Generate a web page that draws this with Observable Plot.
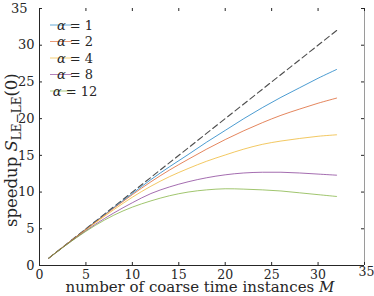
<!DOCTYPE html>
<html>
<head>
<meta charset="utf-8">
<script src="https://cdn.jsdelivr.net/npm/d3@7"></script>
<script src="https://cdn.jsdelivr.net/npm/@observablehq/plot@0.6"></script>
<style>
  html, body { margin: 0; padding: 0; background: #fff; }
  svg { display: block; }
  svg text, svg tspan { font-family: "DejaVu Serif", serif !important; }
</style>
</head>
<body>
<div id="chart"></div>
<script>
const M   = [1, 2, 4, 6, 8, 10, 12, 14, 16, 18, 20, 22, 24, 26, 28, 30, 32];
const s1  = [1, 2, 3.98, 5.95, 7.9, 9.8, 11.7, 13.45, 15.1, 16.8, 18.4, 20.0, 21.5, 22.9, 24.2, 25.5, 26.7];
const s2  = [1, 2, 3.97, 5.9, 7.8, 9.65, 11.4, 13.0, 14.45, 15.85, 17.15, 18.35, 19.45, 20.45, 21.3, 22.1, 22.8];
const s4  = [1, 1.99, 3.93, 5.8, 7.6, 9.3, 10.8, 12.1, 13.2, 14.2, 15.05, 15.85, 16.5, 16.95, 17.3, 17.6, 17.8];
const s8  = [1, 1.98, 3.85, 5.6, 7.15, 8.55, 9.8, 10.7, 11.4, 11.95, 12.35, 12.6, 12.7, 12.7, 12.6, 12.45, 12.3];
const s12 = [1, 1.97, 3.8, 5.45, 6.85, 7.95, 8.8, 9.5, 10.0, 10.3, 10.45, 10.4, 10.3, 10.15, 9.9, 9.65, 9.4];
const ideal = [1, 32];
const alphas = ["1", "2", "4", "8", "12"];
const colors = ["#0072BD", "#D95319", "#EDB120", "#7E2F8E", "#77AC30"];
const series = [s1, s2, s4, s8, s12];
const xTicks = [0, 5, 10, 15, 20, 25, 30, 35];
const yTicks = [0, 5, 10, 15, 20, 25, 30, 35];

const rows = [];
series.forEach((s, k) => M.forEach((m, i) => rows.push({M: m, S: s[i], a: alphas[k]})));
const idealRows = ideal.map(v => ({M: v, S: v}));

const font = "DejaVu Serif";
const tickX = 3 / 9.286, tickY = 3 / 7.34;

const svg = Plot.plot({
  width: 374, height: 296,
  marginLeft: 39, marginRight: 10, marginTop: 8, marginBottom: 31,
  style: {fontFamily: font, fontSize: "13px", color: "#262626", background: "#fff"},
  x: {domain: [0, 35]},
  y: {domain: [0, 35]},
  color: {domain: alphas, range: colors},
  marks: [
    Plot.line(idealRows, {x: "M", y: "S", stroke: "#4d4d4d", strokeWidth: 1.1, strokeDasharray: "6,3.5"}),
    Plot.line(rows, {x: "M", y: "S", z: "a", stroke: "a", strokeWidth: 1, strokeOpacity: 0.7, curve: "catmull-rom"}),
    // frame lines
    Plot.ruleX([0], {stroke: "#262626"}),
    Plot.ruleY([0], {stroke: "#262626"}),
    Plot.ruleX([35], {stroke: "#9a9a9a"}),
    // inward ticks
    Plot.ruleX(xTicks, {x: d => d, y1: 0, y2: tickY, stroke: "#262626"}),
    Plot.ruleX(xTicks, {x: d => d, y1: 35, y2: 35 - tickY, stroke: "#262626"}),
    Plot.ruleY(yTicks, {y: d => d, x1: 0, x2: tickX, stroke: "#262626"}),
    Plot.ruleY(yTicks, {y: d => d, x1: 35, x2: 35 - tickX, stroke: "#262626"}),
    Plot.axisX(xTicks.slice(0, -1), {tickSize: 0, tickPadding: 5, label: null, fontSize: 12.5}),
    Plot.axisX(xTicks.slice(-1), {tickSize: 0, tickPadding: 5, label: null, fontSize: 12.5, dy: -3, dx: 2}),
    Plot.axisY(yTicks.slice(0, -1), {tickSize: 0, tickPadding: 5, label: null, fontSize: 13}),
    Plot.axisY(yTicks.slice(-1), {tickSize: 0, tickPadding: 5, label: null, fontSize: 13, dx: -7})
  ]
});

const g = d3.select(svg);
// x label
const xl = g.append("text")
  .attr("x", 200).attr("y", 292)
  .attr("text-anchor", "middle")
  .attr("font-family", font).attr("font-size", 15).attr("fill", "#262626");
xl.append("tspan").text("number of coarse time instances ");
xl.append("tspan").attr("font-style", "italic").text("M");

// y label (runs upward from the bottom)
const yl = g.append("text")
  .attr("transform", "translate(17,227) rotate(-90)")
  .attr("text-anchor", "start")
  .attr("font-family", font).attr("font-size", 16.5).attr("fill", "#262626");
yl.append("tspan").text("speedup ");
yl.append("tspan").attr("font-style", "italic").text("S");
yl.append("tspan").attr("font-size", 12).attr("dy", 4).text("LE\u2212LE");
yl.append("tspan").attr("dy", -4).text("(0)");

// legend
const lg = g.append("g");
alphas.forEach((a, i) => {
  const y = 25 + i * 16.5;
  lg.append("line").attr("x1", 50).attr("x2", 72).attr("y1", y).attr("y2", y)
    .attr("stroke", colors[i]).attr("stroke-opacity", 0.6).attr("stroke-width", 1);
  const t = lg.append("text").attr("x", 75).attr("y", y).attr("dy", "0.35em")
    .attr("font-family", font).attr("font-size", 13).attr("fill", "#262626");
  t.append("tspan").attr("font-style", "italic").text("\u03b1");
  t.append("tspan").text(" = " + a);
});

document.getElementById("chart").appendChild(svg);
</script>
</body>
</html>
